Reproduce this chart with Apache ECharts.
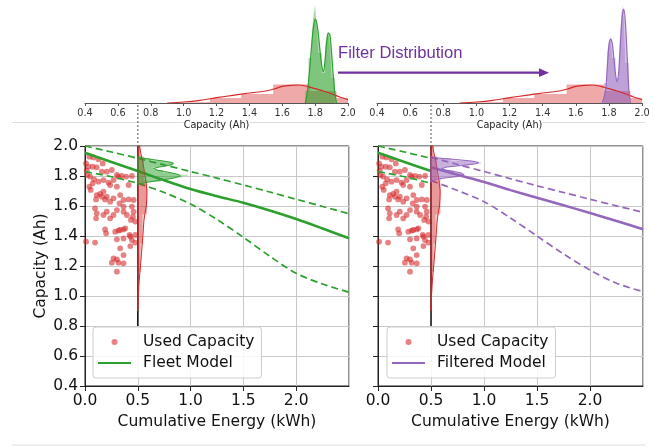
<!DOCTYPE html>
<html>
<head>
<meta charset="utf-8">
<script src="https://cdn.jsdelivr.net/npm/echarts@6/dist/echarts.min.js"></script>
<style>
  html, body { margin: 0; padding: 0; background: #fff; }
  #chart { width: 654px; height: 447px; }
</style>
</head>
<body>
<div id="chart"></div>
<script>
// used capacity measurements [kWh, Ah]
const usedPoints = [
  [0.041,1.929],[0.079,1.924],[0.127,1.911],[0.168,1.884],[0.010,1.884],[0.032,1.862],[0.073,1.862],[0.111,1.858],
  [0.159,1.829],[0.206,1.829],[0.254,1.840],[0.016,1.836],[0.022,1.807],[0.048,1.796],[0.086,1.778],[0.073,1.751],
  [0.054,1.707],[0.041,1.729],[0.127,1.762],[0.175,1.773],[0.222,1.756],[0.238,1.740],[0.302,1.807],[0.317,1.796],
  [0.349,1.800],[0.390,1.796],[0.413,1.740],[0.444,1.800],[0.270,1.773],[0.302,1.729],[0.175,1.696],[0.143,1.680],
  [0.159,1.662],[0.206,1.662],[0.111,1.673],[0.105,1.644],[0.190,1.644],[0.238,1.629],[0.270,1.651],[0.333,1.673],
  [0.365,1.640],[0.413,1.644],[0.460,1.640],[0.327,1.618],[0.365,1.596],[0.444,1.596],[0.302,1.573],[0.460,1.562],
  [0.095,1.584],[0.111,1.551],[0.105,1.518],[0.206,1.562],[0.175,1.540],[0.270,1.540],[0.238,1.518],[0.365,1.562],
  [0.397,1.540],[0.454,1.529],[0.435,1.507],[0.476,1.496],[0.190,1.444],[0.200,1.418],[0.286,1.429],[0.317,1.436],
  [0.333,1.440],[0.365,1.444],[0.381,1.451],[0.302,1.378],[0.365,1.384],[0.429,1.396],[0.476,1.407],[0.444,1.373],
  [0.476,1.356],[0.010,1.362],[0.095,1.356],[0.429,1.333],[0.333,1.318],[0.365,1.273],[0.302,1.244],[0.254,1.222],
  [0.317,1.222],[0.365,1.218],[0.302,1.162],[0.270,1.251],[0.422,1.407]
];

// fleet model (mean and bounds)
const modelEnergy = [0, 0.25, 0.5, 0.75, 1.0, 1.25, 1.5, 1.75, 2.0, 2.25, 2.5];
const fleetMean   = [1.955, 1.893, 1.833, 1.771, 1.713, 1.665, 1.622, 1.570, 1.513, 1.450, 1.385];
const fleetUpper  = [2.000, 1.960, 1.918, 1.874, 1.830, 1.786, 1.740, 1.693, 1.645, 1.597, 1.548];
const fleetLower  = [1.830, 1.795, 1.751, 1.690, 1.613, 1.510, 1.391, 1.265, 1.151, 1.080, 1.025];

// filtered model
const filteredEnergy = [0.5, 0.75, 1.0, 1.25, 1.5, 1.75, 2.0, 2.25, 2.5];
const filteredMean   = [1.858, 1.808, 1.760, 1.706, 1.655, 1.605, 1.553, 1.500, 1.445];
const filteredUpper  = [1.925, 1.877, 1.830, 1.782, 1.735, 1.690, 1.645, 1.601, 1.558];
const filteredLower  = [1.770, 1.703, 1.629, 1.520, 1.400, 1.280, 1.173, 1.085, 1.029];

// capacity distributions (density, arbitrary units)
const redKdeCap = [0.9, 1.0, 1.1, 1.2, 1.3, 1.4, 1.5, 1.55, 1.6, 1.65, 1.7, 1.75, 1.8, 1.85, 1.9, 1.95, 2.0];
const redKde    = [0, 1.0, 2.7, 5.3, 7.7, 10, 12, 14, 16.7, 17.7, 18, 16.7, 14.3, 12, 9.3, 6, 3.3];
const redHistEdges = [0.93, 1.16, 1.35, 1.545, 1.77, 1.93, 2.0];
const redHist      = [1, 5, 9, 18.5, 12, 5];

const greenKdeCap = [1.74, 1.75, 1.76, 1.77, 1.78, 1.79, 1.80, 1.81, 1.82, 1.83, 1.84, 1.85, 1.86, 1.87, 1.88, 1.89, 1.90, 1.91, 1.92, 1.93];
const greenKde    = [0, 8, 22, 40, 60, 76, 84, 80, 68, 52, 38, 31, 42, 60, 70, 68, 50, 28, 10, 0];
const greenHistEdges = [1.74, 1.76, 1.78, 1.79, 1.80, 1.81, 1.82, 1.84, 1.86, 1.87, 1.88, 1.89, 1.90, 1.92];
const greenHist      = [12, 45, 70, 88, 98, 74, 50, 30, 55, 68, 72, 55, 25];

const purpleKdeCap = [1.76, 1.78, 1.79, 1.80, 1.81, 1.82, 1.83, 1.84, 1.85, 1.86, 1.87, 1.88, 1.89, 1.90, 1.91, 1.92, 1.93];
const purpleKde    = [0, 12, 35, 57, 64, 60, 45, 29, 21, 32, 60, 86, 94, 80, 48, 15, 0];
const purpleHistEdges = [1.77, 1.79, 1.80, 1.81, 1.82, 1.84, 1.86, 1.87, 1.88, 1.89, 1.90, 1.92];
const purpleHist      = [20, 50, 62, 66, 45, 25, 45, 75, 98, 85, 40];

const RED = '#d62728';
const GREEN = '#2ca02c';
const PURPLE = '#9467bd';
const SIDE_SCALE = 0.0048;   // density unit -> kWh when drawn sideways
const CUT_ENERGY = 0.5;

const chart = echarts.init(document.getElementById('chart'));

const pairs = (xs, ys) => xs.map((x, i) => [x, ys[i]]);

function histData(edges, h) {
  const d = [[edges[0], 0]];
  h.forEach((v, i) => d.push([edges[i], v]));
  d.push([edges[edges.length - 1], 0]);
  return d;
}

function topHist(edges, h, color, gi) {
  return {
    type: 'line', xAxisIndex: gi, yAxisIndex: gi, step: 'end', symbol: 'none', silent: true,
    data: histData(edges, h),
    lineStyle: { width: 0 },
    areaStyle: { color: color, opacity: 0.4 }
  };
}

function topKde(caps, dens, color, gi, fill) {
  return {
    type: 'line', xAxisIndex: gi, yAxisIndex: gi, smooth: 0.3, symbol: 'none', silent: true,
    data: pairs(caps, dens),
    lineStyle: { color: color, width: 1.2 },
    areaStyle: fill ? { color: color, opacity: 0.35 } : undefined
  };
}

function sideKde(caps, dens) {
  const pts = [[CUT_ENERGY, caps[0]]];
  caps.forEach((c, i) => pts.push([CUT_ENERGY + SIDE_SCALE * dens[i], c]));
  pts.push([CUT_ENERGY, caps[caps.length - 1]]);
  return pts;
}

function sideHist(edges, h) {
  const pts = [[CUT_ENERGY, edges[0]]];
  h.forEach((v, i) => {
    pts.push([CUT_ENERGY + SIDE_SCALE * v, edges[i]]);
    pts.push([CUT_ENERGY + SIDE_SCALE * v, edges[i + 1]]);
  });
  pts.push([CUT_ENERGY, edges[edges.length - 1]]);
  return pts;
}

function polySeries(pts, gi, fill, stroke) {
  return {
    type: 'custom', xAxisIndex: gi, yAxisIndex: gi, silent: true, z: 4,
    data: [pts[0]],
    renderItem: (params, api) => ({
      type: 'polygon',
      shape: { points: pts.map(p => api.coord(p)) },
      style: { fill: fill, stroke: stroke || 'none', lineWidth: stroke ? 1 : 0 }
    })
  };
}

function modelLine(xs, ys, color, dashed, gi, name) {
  return {
    name: name, type: 'line', xAxisIndex: gi, yAxisIndex: gi, smooth: 0.3, symbol: 'none', silent: true, z: 3,
    data: pairs(xs, ys),
    itemStyle: { color: color },
    lineStyle: { color: color, width: dashed ? 1.7 : 2.5, type: dashed ? [7, 4] : 'solid' }
  };
}

function scatter(gi) {
  return {
    name: 'Used Capacity', type: 'scatter', xAxisIndex: gi, yAxisIndex: gi, silent: true,
    symbolSize: 5.8, data: usedPoints,
    itemStyle: { color: 'rgba(214,39,40,0.72)' }
  };
}

function cutLine(gi) {
  return {
    type: 'line', xAxisIndex: gi, yAxisIndex: gi, symbol: 'none', silent: true, z: 3,
    data: [[CUT_ENERGY, 0.8], [CUT_ENERGY, 2.0]],
    lineStyle: { color: '#111', width: 1.5 }
  };
}

const topX = gi => ({
  type: 'value', gridIndex: gi, min: 0.4, max: 2.0, interval: 0.2,
  axisLine: { show: true, lineStyle: { color: '#555', width: 1 } },
  axisTick: { show: true, length: 3, lineStyle: { color: '#555' } },
  axisLabel: { fontSize: 9.7, color: '#333', margin: 5, formatter: v => v.toFixed(1) },
  splitLine: { show: false },
  name: 'Capacity (Ah)', nameLocation: 'middle', nameGap: 17,
  nameTextStyle: { fontSize: 9.7, color: '#222', backgroundColor: '#fff' }
});

const mainX = gi => ({
  type: 'value', gridIndex: gi, min: 0, max: 2.5, interval: 0.5,
  axisLine: { show: true, onZero: false, lineStyle: { color: '#222' } },
  axisTick: { show: true, length: 5, lineStyle: { color: '#222' } },
  axisLabel: { fontSize: 15.5, color: '#111', margin: 7, showMaxLabel: false, formatter: v => v.toFixed(1) },
  splitLine: { show: true, lineStyle: { color: '#c9c9c9', width: 1 } },
  name: 'Cumulative Energy (kWh)', nameLocation: 'middle', nameGap: 27,
  nameTextStyle: { fontSize: 15.5, color: '#111' }
});

const mainY = (gi, labels) => ({
  type: 'value', gridIndex: gi, min: 0.4, max: 2.0, interval: 0.2,
  axisLine: { show: true, onZero: false, lineStyle: { color: '#222' } },
  axisTick: { show: true, length: 5, lineStyle: { color: '#222' } },
  axisLabel: { show: labels, fontSize: 15.5, color: '#111', margin: 7, formatter: v => v.toFixed(1) },
  splitLine: { show: true, lineStyle: { color: '#c9c9c9', width: 1 } },
  name: labels ? 'Capacity (Ah)' : '', nameLocation: 'middle', nameGap: 36,
  nameTextStyle: { fontSize: 15.5, color: '#111' }
});

// line entries hide the marker dot, keeping only the stroke
const legendBox = (left, names) => ({
  data: [
    { name: names[0], icon: 'circle' },
    { name: names[1], itemStyle: { opacity: 0 } }
  ],
  left: left, top: 327, orient: 'vertical',
  itemWidth: 33, itemHeight: 6, itemGap: 5, padding: [7, 7, 7, 4],
  backgroundColor: 'rgba(255,255,255,0.85)', borderColor: '#cccccc', borderWidth: 1, borderRadius: 3,
  selectedMode: false,
  textStyle: { fontSize: 15.5, color: '#111', padding: [0, 0, 0, 7] }
});

const leftCut = modelEnergy.filter(e => e <= CUT_ENERGY);
const cutOf = arr => arr.slice(0, leftCut.length);

const staticGraphic = [
  { id: 'sep1', type: 'line', z: -10, shape: { x1: 12, y1: 122.5, x2: 645, y2: 122.5 }, style: { stroke: '#dddddd', lineWidth: 1 } },
  { id: 'sep2', type: 'line', z: -10, shape: { x1: 12, y1: 445, x2: 645, y2: 445 }, style: { stroke: '#dddddd', lineWidth: 1 } },
  { id: 'ftext', type: 'text', x: 338, y: 53.5, style: { text: 'Filter Distribution', font: '16.6px "Liberation Sans", Arial, sans-serif', fill: '#7030a0', verticalAlign: 'middle' } },
  { id: 'farrow', type: 'line', shape: { x1: 338, y1: 72.7, x2: 541, y2: 72.7 }, style: { stroke: '#7030a0', lineWidth: 2.2 } },
  { id: 'fhead', type: 'polygon', shape: { points: [[539, 68.3], [549, 72.7], [539, 77.1]] }, style: { fill: '#7030a0' } }
];

chart.setOption({
  animation: false,
  backgroundColor: '#fff',
  textStyle: { fontFamily: 'DejaVu Sans' },
  grid: [
    { left: 85, top: 0, width: 263, height: 103 },
    { left: 377, top: 0, width: 265, height: 103 },
    { left: 85, top: 146, width: 264, height: 240, show: true, borderColor: '#222', borderWidth: 1, backgroundColor: 'transparent' },
    { left: 378, top: 146, width: 265, height: 240, show: true, borderColor: '#222', borderWidth: 1, backgroundColor: 'transparent' }
  ],
  xAxis: [topX(0), topX(1), mainX(2), mainX(3)],
  yAxis: [
    { type: 'value', gridIndex: 0, min: 0, max: 103, show: false },
    { type: 'value', gridIndex: 1, min: 0, max: 103, show: false },
    mainY(2, true),
    mainY(3, false)
  ],
  legend: [
    legendBox(93, ['Used Capacity', 'Fleet Model']),
    legendBox(387, ['Used Capacity', 'Filtered Model'])
  ],
  graphic: staticGraphic,
  series: [
    // top left: used vs fleet distribution
    topHist(redHistEdges, redHist, RED, 0),
    topKde(redKdeCap, redKde, RED, 0, false),
    topHist(greenHistEdges, greenHist, GREEN, 0),
    topKde(greenKdeCap, greenKde, GREEN, 0, true),
    // top right: used vs filtered distribution
    topHist(redHistEdges, redHist, RED, 1),
    topKde(redKdeCap, redKde, RED, 1, false),
    topHist(purpleHistEdges, purpleHist, PURPLE, 1),
    topKde(purpleKdeCap, purpleKde, PURPLE, 1, true),
    // main left
    scatter(2),
    modelLine(modelEnergy, fleetUpper, GREEN, true, 2, 'Fleet Upper'),
    modelLine(modelEnergy, fleetLower, GREEN, true, 2, 'Fleet Lower'),
    modelLine(modelEnergy, fleetMean, GREEN, false, 2, 'Fleet Model'),
    cutLine(2),
    polySeries(sideHist(redHistEdges, redHist), 2, 'rgba(214,39,40,0.35)'),
    polySeries(sideKde(redKdeCap, redKde), 2, 'rgba(214,39,40,0.2)', RED),
    polySeries(sideHist(greenHistEdges, greenHist), 2, 'rgba(44,160,44,0.3)'),
    polySeries(sideKde(greenKdeCap, greenKde), 2, 'rgba(44,160,44,0.3)', GREEN),
    // main right
    scatter(3),
    modelLine(leftCut, cutOf(fleetUpper), GREEN, true, 3, 'Fleet Upper'),
    modelLine(leftCut, cutOf(fleetLower), GREEN, true, 3, 'Fleet Lower'),
    modelLine(leftCut, cutOf(fleetMean), GREEN, false, 3, 'Fleet Mean'),
    modelLine(filteredEnergy, filteredUpper, PURPLE, true, 3, 'Filtered Upper'),
    modelLine(filteredEnergy, filteredLower, PURPLE, true, 3, 'Filtered Lower'),
    modelLine(filteredEnergy, filteredMean, PURPLE, false, 3, 'Filtered Model'),
    cutLine(3),
    polySeries(sideHist(redHistEdges, redHist), 3, 'rgba(214,39,40,0.35)'),
    polySeries(sideKde(redKdeCap, redKde), 3, 'rgba(214,39,40,0.2)', RED),
    polySeries(sideHist(purpleHistEdges, purpleHist), 3, 'rgba(148,103,189,0.3)'),
    polySeries(sideKde(purpleKdeCap, purpleKde), 3, 'rgba(148,103,189,0.3)', PURPLE)
  ]
});

// dotted connectors from the distribution panels down to the cut energy
const connectors = [2, 3].map(gi => {
  const p = chart.convertToPixel({ xAxisIndex: gi, yAxisIndex: gi }, [CUT_ENERGY, 2.0]);
  return {
    id: 'conn' + gi, type: 'line', z: 10,
    shape: { x1: p[0], y1: 105, x2: p[0], y2: p[1] },
    style: { stroke: '#777', lineWidth: 1.3, lineDash: [2, 2] }
  };
});
chart.setOption({ graphic: staticGraphic.concat(connectors) });
</script>
</body>
</html>
